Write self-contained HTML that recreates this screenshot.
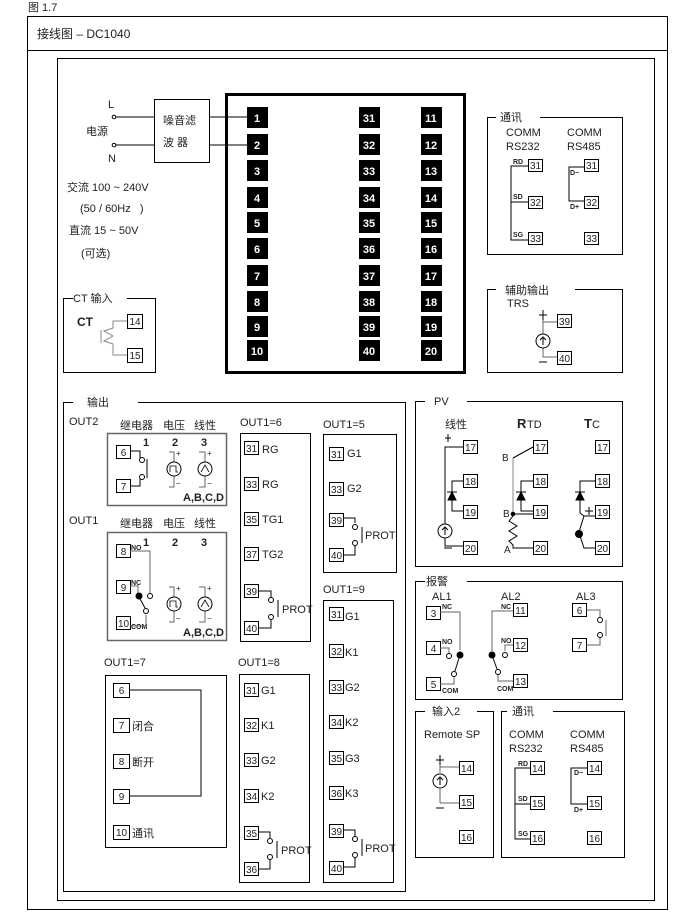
<!DOCTYPE html>
<html><head><meta charset="utf-8"><style>
html,body{margin:0;padding:0;background:#fff}
svg{display:block}
text{font-family:"Liberation Sans","Noto Sans CJK SC",sans-serif;fill:#222}
.t{font-size:10px;text-anchor:middle}
.b{fill:#fff;font-weight:bold;font-size:11px;text-anchor:middle}
.s{font-size:11px}
.k{font-weight:bold;font-size:7px}
</style></head><body>
<svg width="693" height="919" viewBox="0 0 693 919" xmlns="http://www.w3.org/2000/svg" fill="none" stroke="#000" stroke-width="1">
<text x="28" y="11" class="s" stroke="none">图 1.7</text>
<rect x="27.5" y="16.5" width="640" height="893"/>
<line x1="27" y1="50.5" x2="667" y2="50.5"/>
<text x="37" y="38" stroke="none" style="font-size:12px">接线图 – DC1040</text>
<rect x="57.5" y="58.5" width="597" height="842"/>

<!-- power -->
<text x="108" y="108" stroke="none" class="s" fill="#800">L</text>
<text x="108" y="162" stroke="none" class="s" fill="#800">N</text>
<text x="86" y="135" stroke="none" class="s">电源</text>
<circle cx="114" cy="117" r="1.8"/><circle cx="114" cy="145" r="1.8"/>
<line x1="116" y1="117" x2="154" y2="117"/><line x1="116" y1="145" x2="154" y2="145"/>
<rect x="154.5" y="99.5" width="55" height="63"/>
<text x="163" y="124" stroke="none" class="s">噪音滤</text>
<text x="163" y="146" stroke="none" class="s">波 器</text>
<line x1="209" y1="117" x2="247" y2="117"/><line x1="209" y1="145" x2="247" y2="145"/>
<text x="67" y="191" stroke="none" class="s">交流 100 ~ 240V</text>
<text x="80" y="212" stroke="none" class="s">(50 / 60Hz&#160;&#160;&#160;)</text>
<text x="69" y="234" stroke="none" class="s">直流 15 ~ 50V</text>
<text x="81" y="257" stroke="none" class="s">(可选)</text>

<!-- CT -->
<path d="M73 298.5H63.5V372.5H155.5V298.5H127"/>
<text x="73" y="302" stroke="none" class="s">CT 输入</text>
<text x="77" y="326" stroke="none" class="s" font-weight="bold" style="font-size:12px">CT</text>
<path d="M127 321H113V328L104 331L113 336L104 341L113 344V355H127" stroke="#888"/>
<path d="M101 330V343" stroke="#888"/>
<rect x="127.5" y="314.5" width="15" height="14"/><text x="135" y="325" class="t" stroke="none">14</text>
<rect x="127.5" y="348.5" width="15" height="14"/><text x="135" y="359" class="t" stroke="none">15</text>

<!-- main block -->
<rect x="226.5" y="94.5" width="238" height="278" stroke-width="3"/>
<g stroke="none" fill="#000">
<rect x="247" y="107" width="21" height="21"/><rect x="359" y="107" width="21" height="21"/><rect x="421" y="107" width="21" height="21"/>
<rect x="247" y="134" width="21" height="21"/><rect x="359" y="134" width="21" height="21"/><rect x="421" y="134" width="21" height="21"/>
<rect x="247" y="160" width="21" height="21"/><rect x="359" y="160" width="21" height="21"/><rect x="421" y="160" width="21" height="21"/>
<rect x="247" y="187" width="21" height="21"/><rect x="359" y="187" width="21" height="21"/><rect x="421" y="187" width="21" height="21"/>
<rect x="247" y="212" width="21" height="21"/><rect x="359" y="212" width="21" height="21"/><rect x="421" y="212" width="21" height="21"/>
<rect x="247" y="238" width="21" height="21"/><rect x="359" y="238" width="21" height="21"/><rect x="421" y="238" width="21" height="21"/>
<rect x="247" y="265" width="21" height="21"/><rect x="359" y="265" width="21" height="21"/><rect x="421" y="265" width="21" height="21"/>
<rect x="247" y="291" width="21" height="21"/><rect x="359" y="291" width="21" height="21"/><rect x="421" y="291" width="21" height="21"/>
<rect x="247" y="316" width="21" height="21"/><rect x="359" y="316" width="21" height="21"/><rect x="421" y="316" width="21" height="21"/>
<rect x="247" y="340" width="21" height="21"/><rect x="359" y="340" width="21" height="21"/><rect x="421" y="340" width="21" height="21"/>
</g>
<g stroke="none">
<text class="b" x="257" y="122">1</text><text class="b" x="369" y="122">31</text><text class="b" x="431" y="122">11</text>
<text class="b" x="257" y="149">2</text><text class="b" x="369" y="149">32</text><text class="b" x="431" y="149">12</text>
<text class="b" x="257" y="175">3</text><text class="b" x="369" y="175">33</text><text class="b" x="431" y="175">13</text>
<text class="b" x="257" y="202">4</text><text class="b" x="369" y="202">34</text><text class="b" x="431" y="202">14</text>
<text class="b" x="257" y="227">5</text><text class="b" x="369" y="227">35</text><text class="b" x="431" y="227">15</text>
<text class="b" x="257" y="253">6</text><text class="b" x="369" y="253">36</text><text class="b" x="431" y="253">16</text>
<text class="b" x="257" y="280">7</text><text class="b" x="369" y="280">37</text><text class="b" x="431" y="280">17</text>
<text class="b" x="257" y="306">8</text><text class="b" x="369" y="306">38</text><text class="b" x="431" y="306">18</text>
<text class="b" x="257" y="331">9</text><text class="b" x="369" y="331">39</text><text class="b" x="431" y="331">19</text>
<text class="b" x="257" y="355">10</text><text class="b" x="369" y="355">40</text><text class="b" x="431" y="355">20</text>
</g>

<!-- comm top -->
<path d="M496 117.5H487.5V254.5H622.5V117.5H540"/>
<text x="500" y="121" stroke="none" class="s">通讯</text>
<text x="506" y="136" stroke="none" class="s">COMM</text><text x="506" y="150" stroke="none" class="s">RS232</text>
<text x="567" y="136" stroke="none" class="s">COMM</text><text x="567" y="150" stroke="none" class="s">RS485</text>
<path d="M528 166H511V240H528M511 202H528"/>
<text x="513" y="164" class="k" stroke="none">RD</text><text x="513" y="199" class="k" stroke="none">SD</text><text x="513" y="237" class="k" stroke="none">SG</text>
<rect x="528.5" y="159.5" width="14" height="12"/><text x="535.5" y="169" class="t" stroke="none">31</text>
<rect x="528.5" y="196.5" width="14" height="12"/><text x="535.5" y="206" class="t" stroke="none">32</text>
<rect x="528.5" y="232.5" width="14" height="12"/><text x="535.5" y="242" class="t" stroke="none">33</text>
<path d="M584 167H569V201H584"/>
<text x="570" y="175" class="k" stroke="none">D−</text><text x="570" y="209" class="k" stroke="none">D+</text>
<rect x="584.5" y="159.5" width="14" height="12"/><text x="591.5" y="169" class="t" stroke="none">31</text>
<rect x="584.5" y="196.5" width="14" height="12"/><text x="591.5" y="206" class="t" stroke="none">32</text>
<rect x="584.5" y="232.5" width="14" height="12"/><text x="591.5" y="242" class="t" stroke="none">33</text>

<!-- TRS -->
<path d="M496 289.5H487.5V372.5H622.5V289.5H575"/>
<text x="505" y="294" stroke="none" class="s">辅助输出</text>
<text x="507" y="307" stroke="none" class="s">TRS</text>
<path d="M543 312V334M543 348V357M543 322H557M543 357H557" stroke="#666"/>
<path d="M539 315H547M539 362H547M543 310V320"/>
<circle cx="543" cy="341" r="7"/><path d="M543 345V337M540 340L543 337L546 340"/>
<rect x="557.5" y="314.5" width="14" height="13"/><text x="564.5" y="325" class="t" stroke="none">39</text>
<rect x="557.5" y="351.5" width="14" height="13"/><text x="564.5" y="362" class="t" stroke="none">40</text>

<!-- output -->
<path d="M73 402.5H63.5V891.5H405.5V402.5H138"/>
<text x="87" y="406" stroke="none" class="s">输出</text>
<text x="69" y="425" stroke="none" class="s">OUT2</text>
<text x="120" y="429" stroke="none" class="s">继电器</text><text x="163" y="429" stroke="none" class="s">电压</text><text x="194" y="429" stroke="none" class="s">线性</text>
<rect x="107.5" y="433.5" width="119" height="72" stroke="#666" stroke-width="1.5"/>
<text x="143" y="446" stroke="none" class="s" font-weight="bold">1</text><text x="172" y="446" stroke="none" class="s" font-weight="bold">2</text><text x="201" y="446" stroke="none" class="s" font-weight="bold">3</text>
<rect x="116.5" y="445.5" width="14" height="13"/><text x="123.5" y="456" class="t" stroke="none">6</text>
<rect x="116.5" y="479.5" width="14" height="13"/><text x="123.5" y="490" class="t" stroke="none">7</text>
<path d="M130 451H140V458M130 486H140V479"/><circle cx="142" cy="460" r="2.5"/><circle cx="142" cy="477" r="2.5"/><line x1="147" y1="459" x2="147" y2="478"/>
<path d="M169 452H174V462M174 476V487H169" stroke="#666"/><circle cx="174" cy="469" r="7"/><path d="M170 472V466H176V472H178" stroke-width=".8"/>
<text x="176" y="456" stroke="none" style="font-size:8px">+</text><text x="176" y="486" stroke="none" style="font-size:8px">−</text>
<path d="M199 452H205V462M205 476V487H199" stroke="#666"/><circle cx="205" cy="469" r="7"/><path d="M201 472L205 465L209 472" stroke-width=".8"/>
<text x="207" y="456" stroke="none" style="font-size:8px">+</text><text x="207" y="486" stroke="none" style="font-size:8px">−</text>
<text x="183" y="501" stroke="none" class="s" font-weight="bold">A,B,C,D</text>

<text x="69" y="524" stroke="none" class="s">OUT1</text>
<text x="120" y="527" stroke="none" class="s">继电器</text><text x="163" y="527" stroke="none" class="s">电压</text><text x="194" y="527" stroke="none" class="s">线性</text>
<rect x="107.5" y="532.5" width="119" height="108" stroke="#666" stroke-width="1.5"/>
<text x="143" y="546" stroke="none" class="s" font-weight="bold">1</text><text x="172" y="546" stroke="none" class="s" font-weight="bold">2</text><text x="201" y="546" stroke="none" class="s" font-weight="bold">3</text>
<rect x="116.5" y="544.5" width="14" height="13"/><text x="123.5" y="555" class="t" stroke="none">8</text>
<rect x="116.5" y="580.5" width="14" height="13"/><text x="123.5" y="591" class="t" stroke="none">9</text>
<rect x="116.5" y="616.5" width="14" height="13"/><text x="123.5" y="627" class="t" stroke="none">10</text>
<text x="131" y="550" class="k" stroke="none">NO</text><text x="131" y="585" class="k" stroke="none">NC</text><text x="131" y="629" class="k" stroke="none">COM</text>
<path d="M130 551H150V594M130 586H138V595M130 626H146V615" stroke="#666"/>
<circle cx="139" cy="596" r="3" fill="#000"/><circle cx="150" cy="596" r="2.5"/><circle cx="146" cy="611" r="2.5"/><line x1="139" y1="597" x2="145" y2="608"/>
<path d="M169 587H174V597M174 611V622H169" stroke="#666"/><circle cx="174" cy="604" r="7"/><path d="M170 607V601H176V607H178" stroke-width=".8"/>
<text x="176" y="591" stroke="none" style="font-size:8px">+</text><text x="176" y="621" stroke="none" style="font-size:8px">−</text>
<path d="M199 587H205V597M205 611V622H199" stroke="#666"/><circle cx="205" cy="604" r="7"/><path d="M201 607L205 600L209 607" stroke-width=".8"/>
<text x="207" y="591" stroke="none" style="font-size:8px">+</text><text x="207" y="621" stroke="none" style="font-size:8px">−</text>
<text x="183" y="636" stroke="none" class="s" font-weight="bold">A,B,C,D</text>

<!-- OUT1=6 -->
<text x="240" y="426" stroke="none" class="s">OUT1=6</text>
<rect x="240.5" y="433.5" width="70" height="208"/>
<g stroke="none" fill="#555"><text x="262" y="453" class="s">RG</text><text x="262" y="488" class="s">RG</text><text x="262" y="523" class="s">TG1</text><text x="262" y="558" class="s">TG2</text><text x="282" y="613" class="s">PROT</text></g>
<rect x="244.5" y="441.5" width="14" height="13"/><text x="251.5" y="452" class="t" stroke="none">31</text>
<rect x="244.5" y="477.5" width="14" height="13"/><text x="251.5" y="488" class="t" stroke="none">33</text>
<rect x="244.5" y="512.5" width="14" height="13"/><text x="251.5" y="523" class="t" stroke="none">35</text>
<rect x="244.5" y="547.5" width="14" height="13"/><text x="251.5" y="558" class="t" stroke="none">37</text>
<rect x="244.5" y="584.5" width="14" height="13"/><text x="251.5" y="595" class="t" stroke="none">39</text>
<rect x="244.5" y="621.5" width="14" height="13"/><text x="251.5" y="632" class="t" stroke="none">40</text>
<path d="M258 591H271V597M258 628H271V620"/><circle cx="271" cy="600" r="2.5"/><circle cx="271" cy="617" r="2.5"/><line x1="278" y1="600" x2="278" y2="617"/>

<!-- OUT1=5 -->
<text x="323" y="428" stroke="none" class="s">OUT1=5</text>
<rect x="323.5" y="434.5" width="73" height="138"/>
<g stroke="none" fill="#555"><text x="347" y="457" class="s">G1</text><text x="347" y="492" class="s">G2</text><text x="365" y="539" class="s">PROT</text></g>
<rect x="329.5" y="447.5" width="14" height="13"/><text x="336.5" y="458" class="t" stroke="none">31</text>
<rect x="329.5" y="482.5" width="14" height="13"/><text x="336.5" y="493" class="t" stroke="none">33</text>
<rect x="329.5" y="513.5" width="14" height="13"/><text x="336.5" y="524" class="t" stroke="none">39</text>
<rect x="329.5" y="548.5" width="14" height="13"/><text x="336.5" y="559" class="t" stroke="none">40</text>
<path d="M343 518H355V523M343 555H355V546"/><circle cx="355" cy="527" r="2.5"/><circle cx="355" cy="543" r="2.5"/><line x1="362" y1="527" x2="362" y2="543"/>

<!-- OUT1=9 -->
<text x="323" y="593" stroke="none" class="s">OUT1=9</text>
<rect x="323.5" y="600.5" width="70" height="282"/>
<g stroke="none" fill="#555"><text x="345" y="620" class="s">G1</text><text x="345" y="656" class="s">K1</text><text x="345" y="691" class="s">G2</text><text x="345" y="726" class="s">K2</text><text x="345" y="762" class="s">G3</text><text x="345" y="797" class="s">K3</text><text x="365" y="852" class="s">PROT</text></g>
<rect x="329.5" y="607.5" width="14" height="13"/><text x="336.5" y="618" class="t" stroke="none">31</text>
<rect x="329.5" y="644.5" width="14" height="13"/><text x="336.5" y="655" class="t" stroke="none">32</text>
<rect x="329.5" y="680.5" width="14" height="13"/><text x="336.5" y="691" class="t" stroke="none">33</text>
<rect x="329.5" y="715.5" width="14" height="13"/><text x="336.5" y="726" class="t" stroke="none">34</text>
<rect x="329.5" y="751.5" width="14" height="13"/><text x="336.5" y="762" class="t" stroke="none">35</text>
<rect x="329.5" y="786.5" width="14" height="13"/><text x="336.5" y="797" class="t" stroke="none">36</text>
<rect x="329.5" y="824.5" width="14" height="13"/><text x="336.5" y="835" class="t" stroke="none">39</text>
<rect x="329.5" y="861.5" width="14" height="13"/><text x="336.5" y="872" class="t" stroke="none">40</text>
<path d="M343 830H355V836M343 867H355V858"/><circle cx="355" cy="839" r="2.5"/><circle cx="355" cy="855" r="2.5"/><line x1="362" y1="839" x2="362" y2="856"/>

<!-- OUT1=8 -->
<text x="238" y="666" stroke="none" class="s">OUT1=8</text>
<rect x="239.5" y="674.5" width="70" height="208"/>
<g stroke="none" fill="#555"><text x="261" y="694" class="s">G1</text><text x="261" y="729" class="s">K1</text><text x="261" y="764" class="s">G2</text><text x="261" y="800" class="s">K2</text><text x="281" y="854" class="s">PROT</text></g>
<rect x="244.5" y="683.5" width="14" height="13"/><text x="251.5" y="694" class="t" stroke="none">31</text>
<rect x="244.5" y="718.5" width="14" height="13"/><text x="251.5" y="729" class="t" stroke="none">32</text>
<rect x="244.5" y="753.5" width="14" height="13"/><text x="251.5" y="764" class="t" stroke="none">33</text>
<rect x="244.5" y="789.5" width="14" height="13"/><text x="251.5" y="800" class="t" stroke="none">34</text>
<rect x="244.5" y="826.5" width="14" height="13"/><text x="251.5" y="837" class="t" stroke="none">35</text>
<rect x="244.5" y="862.5" width="14" height="13"/><text x="251.5" y="873" class="t" stroke="none">36</text>
<path d="M258 832H270V838M258 869H270V860"/><circle cx="270" cy="841" r="2.5"/><circle cx="270" cy="857" r="2.5"/><line x1="277" y1="841" x2="277" y2="858"/>

<!-- OUT1=7 -->
<text x="104" y="666" stroke="none" class="s">OUT1=7</text>
<rect x="105.5" y="675.5" width="121" height="172"/>
<rect x="113.5" y="683.5" width="16" height="14"/><text x="121.5" y="694" class="t" stroke="none">6</text>
<rect x="113.5" y="718.5" width="16" height="14"/><text x="121.5" y="729" class="t" stroke="none">7</text>
<rect x="113.5" y="754.5" width="16" height="14"/><text x="121.5" y="765" class="t" stroke="none">8</text>
<rect x="113.5" y="789.5" width="16" height="14"/><text x="121.5" y="800" class="t" stroke="none">9</text>
<rect x="113.5" y="825.5" width="16" height="14"/><text x="121.5" y="836" class="t" stroke="none">10</text>
<path d="M129 690H201V796H129"/>
<g stroke="none" fill="#555"><text x="132" y="730" class="s">闭合</text><text x="132" y="766" class="s">断开</text><text x="132" y="837" class="s">通讯</text></g>

<!-- PV -->
<path d="M425 401.5H415.5V566.5H622.5V401.5H467"/>
<text x="434" y="405" stroke="none" class="s">PV</text>
<text x="445" y="428" stroke="none" class="s">线性</text>
<text x="517" y="428" stroke="none" style="font-size:13px" font-weight="bold">R</text><text x="527" y="428" stroke="none" class="s">TD</text>
<text x="584" y="428" stroke="none" style="font-size:13px" font-weight="bold">T</text><text x="592" y="428" stroke="none" class="s">C</text>
<rect x="463.5" y="440.5" width="14" height="13"/><text x="470.5" y="451" class="t" stroke="none">17</text>
<rect x="463.5" y="474.5" width="14" height="13"/><text x="470.5" y="485" class="t" stroke="none">18</text>
<rect x="463.5" y="505.5" width="14" height="13"/><text x="470.5" y="516" class="t" stroke="none">19</text>
<rect x="463.5" y="541.5" width="14" height="13"/><text x="470.5" y="552" class="t" stroke="none">20</text>
<path d="M445 438H451M448 434V442M444 548H452"/>
<path d="M463 447H445V524M445 538V546H463M463 481H452V511H463"/>
<circle cx="445" cy="531" r="7"/><path d="M445 535V527M442 530L445 527L448 530"/>
<path d="M448 500L452 492L456 500Z" fill="#000"/><line x1="447" y1="492" x2="457" y2="492"/>
<rect x="533.5" y="440.5" width="14" height="13"/><text x="540.5" y="451" class="t" stroke="none">17</text>
<rect x="533.5" y="474.5" width="14" height="13"/><text x="540.5" y="485" class="t" stroke="none">18</text>
<rect x="533.5" y="505.5" width="14" height="13"/><text x="540.5" y="516" class="t" stroke="none">19</text>
<rect x="533.5" y="541.5" width="14" height="13"/><text x="540.5" y="552" class="t" stroke="none">20</text>
<path d="M513 458V514" stroke="#888"/><path d="M533 447L513 458"/>
<path d="M533 481H521V511H533M513 514H533"/>
<path d="M517 500L521 492L525 500Z" fill="#000"/><line x1="516" y1="492" x2="526" y2="492"/>
<circle cx="513" cy="514" r="1.8" fill="#000"/>
<path d="M513 516L509 521L517 526L509 531L517 536L509 541L513 545V548H533"/>
<text x="502" y="461" stroke="none" style="font-size:10px">B</text><text x="503" y="517" stroke="none" style="font-size:10px">B</text><text x="504" y="553" stroke="none" style="font-size:10px">A</text>
<rect x="595.5" y="440.5" width="14" height="13"/><text x="602.5" y="451" class="t" stroke="none">17</text>
<rect x="595.5" y="474.5" width="14" height="13"/><text x="602.5" y="485" class="t" stroke="none">18</text>
<rect x="595.5" y="505.5" width="14" height="13"/><text x="602.5" y="516" class="t" stroke="none">19</text>
<rect x="595.5" y="541.5" width="14" height="13"/><text x="602.5" y="552" class="t" stroke="none">20</text>
<path d="M595 481H580V513L584 516H595M584 516L579 532M580 536L584 548H595"/>
<path d="M576 500L580 492L584 500Z" fill="#000"/><line x1="575" y1="492" x2="585" y2="492"/>
<circle cx="579" cy="534" r="3.5" fill="#000"/>
<path d="M585 511H593M589 507V515M586 548H593"/>

<!-- alarm -->
<path d="M425 581.5H415.5V699.5H622.5V581.5H467"/>
<text x="426" y="585" stroke="none" class="s">报警</text>
<text x="432" y="600" stroke="none" class="s">AL1</text><text x="501" y="600" stroke="none" class="s">AL2</text><text x="576" y="600" stroke="none" class="s">AL3</text>
<rect x="426.5" y="606.5" width="14" height="13"/><text x="433.5" y="617" class="t" stroke="none">3</text>
<rect x="426.5" y="641.5" width="14" height="13"/><text x="433.5" y="652" class="t" stroke="none">4</text>
<rect x="426.5" y="677.5" width="14" height="13"/><text x="433.5" y="688" class="t" stroke="none">5</text>
<text x="442" y="609" class="k" stroke="none">NC</text><text x="442" y="644" class="k" stroke="none">NO</text><text x="442" y="693" class="k" stroke="none">COM</text>
<path d="M440 612H460V650M440 648H449V653M440 684H454V677" stroke="#666"/>
<circle cx="460" cy="655" r="3" fill="#000"/><circle cx="449" cy="656" r="2.5"/><circle cx="454" cy="674" r="2.5"/><line x1="455" y1="671" x2="459" y2="658"/>
<rect x="513.5" y="603.5" width="14" height="13"/><text x="520.5" y="614" class="t" stroke="none">11</text>
<rect x="513.5" y="638.5" width="14" height="13"/><text x="520.5" y="649" class="t" stroke="none">12</text>
<rect x="513.5" y="674.5" width="14" height="13"/><text x="520.5" y="685" class="t" stroke="none">13</text>
<text x="501" y="609" class="k" stroke="none">NC</text><text x="501" y="643" class="k" stroke="none">NO</text><text x="497" y="691" class="k" stroke="none">COM</text>
<path d="M513 611H492V651M513 645H505V651M513 681H498V675" stroke="#666"/>
<circle cx="492" cy="655" r="3" fill="#000"/><circle cx="505" cy="655" r="2.5"/><circle cx="498" cy="672" r="2.5"/><line x1="497" y1="669" x2="493" y2="658"/>
<rect x="572.5" y="603.5" width="14" height="13"/><text x="579.5" y="614" class="t" stroke="none">6</text>
<rect x="572.5" y="638.5" width="14" height="13"/><text x="579.5" y="649" class="t" stroke="none">7</text>
<path d="M586 610H600V617M586 645H600V637" stroke="#666"/><circle cx="600" cy="620" r="2.5"/><circle cx="600" cy="635" r="2.5"/><line x1="606" y1="620" x2="606" y2="636" stroke="#666"/>

<!-- input2 -->
<path d="M425 711.5H415.5V857.5H493.5V711.5H477"/>
<text x="432" y="715" stroke="none" class="s">输入2</text>
<text x="424" y="738" stroke="none" class="s">Remote SP</text>
<path d="M440 756V773M440 789V803M440 767H459M440 803H459" stroke="#666"/>
<path d="M436 760H444M440 755V765M436 808H444"/>
<circle cx="440" cy="781" r="7"/><path d="M440 785V777M437 780L440 777L443 780"/>
<rect x="459.5" y="761.5" width="14" height="13"/><text x="466.5" y="772" class="t" stroke="none">14</text>
<rect x="459.5" y="795.5" width="14" height="13"/><text x="466.5" y="806" class="t" stroke="none">15</text>
<rect x="459.5" y="830.5" width="14" height="13"/><text x="466.5" y="841" class="t" stroke="none">16</text>

<!-- comm2 -->
<path d="M507 711.5H501.5V857.5H624.5V711.5H553"/>
<text x="512" y="715" stroke="none" class="s">通讯</text>
<text x="509" y="738" stroke="none" class="s">COMM</text><text x="509" y="752" stroke="none" class="s">RS232</text>
<text x="570" y="738" stroke="none" class="s">COMM</text><text x="570" y="752" stroke="none" class="s">RS485</text>
<path d="M530 768H515V839H530M515 804H530"/>
<text x="518" y="766" class="k" stroke="none">RD</text><text x="518" y="801" class="k" stroke="none">SD</text><text x="518" y="836" class="k" stroke="none">SG</text>
<rect x="530.5" y="761.5" width="14" height="13"/><text x="537.5" y="772" class="t" stroke="none">14</text>
<rect x="530.5" y="796.5" width="14" height="13"/><text x="537.5" y="807" class="t" stroke="none">15</text>
<rect x="530.5" y="831.5" width="14" height="13"/><text x="537.5" y="842" class="t" stroke="none">16</text>
<path d="M587 768H571V804H587"/>
<text x="574" y="775" class="k" stroke="none">D−</text><text x="574" y="812" class="k" stroke="none">D+</text>
<rect x="587.5" y="761.5" width="14" height="13"/><text x="594.5" y="772" class="t" stroke="none">14</text>
<rect x="587.5" y="796.5" width="14" height="13"/><text x="594.5" y="807" class="t" stroke="none">15</text>
<rect x="587.5" y="831.5" width="14" height="13"/><text x="594.5" y="842" class="t" stroke="none">16</text>
</svg>
</body></html>
